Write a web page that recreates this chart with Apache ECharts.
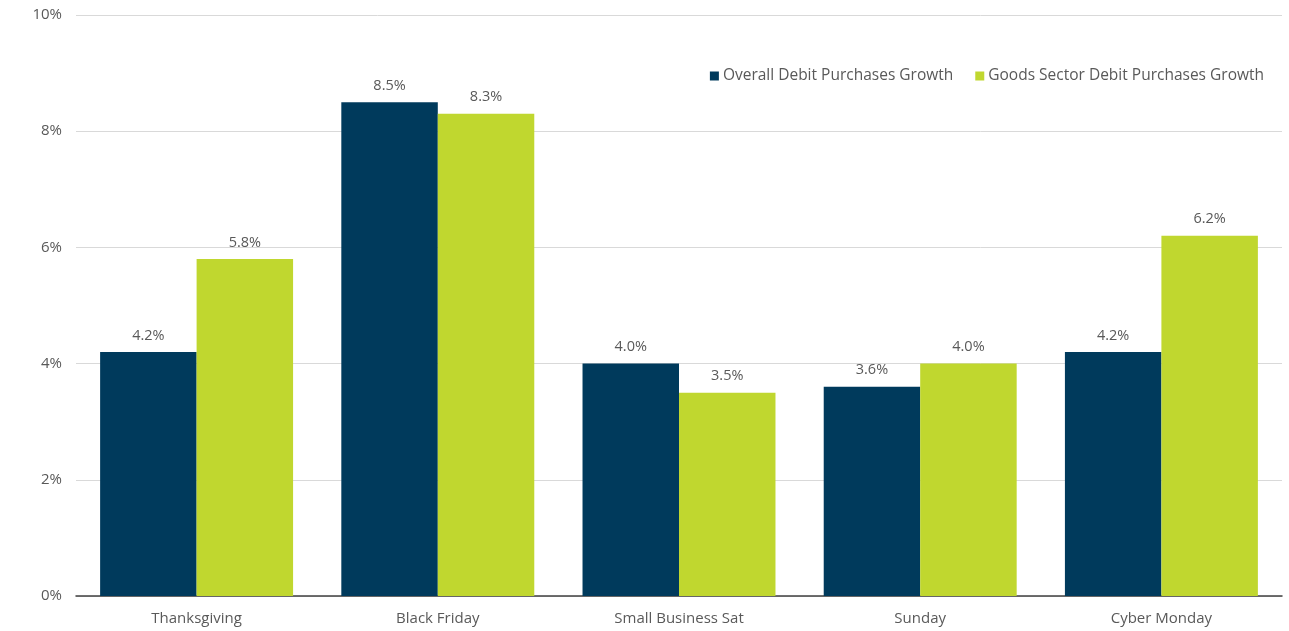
<!DOCTYPE html>
<html>
<head>
<meta charset="utf-8">
<script src="https://cdn.jsdelivr.net/npm/echarts@6/dist/echarts.min.js"></script>
<style>
  html, body { margin: 0; padding: 0; background: #fff; }
  #chart { width: 1289px; height: 631px; }
</style>
</head>
<body>
<div id="chart"></div>
<script>
const categories = ['Thanksgiving', 'Black Friday', 'Small Business Sat', 'Sunday', 'Cyber Monday'];
const overallGrowth = [4.2, 8.5, 4.0, 3.6, 4.2];
const goodsGrowth = [5.8, 8.3, 3.5, 4.0, 6.2];
const seriesNames = ['Overall Debit Purchases Growth', 'Goods Sector Debit Purchases Growth'];

const textColor = '#595959';
const fontFamily = '"Open Sans", "Noto Sans", sans-serif';

const labelStyle = {
  show: true,
  position: 'top',
  distance: 9,
  color: textColor,
  fontSize: 14.5,
  fontFamily: fontFamily,
  formatter: p => p.value.toFixed(1) + '%'
};

const chart = echarts.init(document.getElementById('chart'), null, { renderer: 'canvas' });
chart.setOption({
  animation: false,
  backgroundColor: '#ffffff',
  textStyle: { fontFamily: fontFamily },
  grid: { left: 76, right: 7, top: 15, bottom: 35, containLabel: false },
  legend: {
    top: 63,
    right: 20,
    itemWidth: 9,
    itemHeight: 9,
    itemGap: 22,
    icon: 'rect',
    textStyle: { color: textColor, fontSize: 15.5, fontFamily: fontFamily, padding: [0, 0, 0, -1] },
    data: seriesNames
  },
  xAxis: {
    type: 'category',
    data: categories,
    axisLine: { lineStyle: { color: '#404040', width: 1.5 } },
    axisTick: { show: false },
    axisLabel: { color: textColor, fontSize: 15, margin: 15, fontFamily: fontFamily }
  },
  yAxis: {
    type: 'value',
    min: 0,
    max: 10,
    interval: 2,
    axisLine: { show: false },
    axisTick: { show: false },
    axisLabel: { color: textColor, fontSize: 15, margin: 14, fontFamily: fontFamily, formatter: v => v + '%' },
    splitLine: { lineStyle: { color: '#d9d9d9', width: 1 } }
  },
  series: [
    {
      name: seriesNames[0],
      type: 'bar',
      data: overallGrowth,
      barGap: '0%',
      barCategoryGap: '20%',
      itemStyle: { color: '#003a5c' },
      label: labelStyle
    },
    {
      name: seriesNames[1],
      type: 'bar',
      data: goodsGrowth,
      barGap: '0%',
      barCategoryGap: '20%',
      itemStyle: { color: '#c0d72f' },
      label: labelStyle
    }
  ]
});
</script>
</body>
</html>
